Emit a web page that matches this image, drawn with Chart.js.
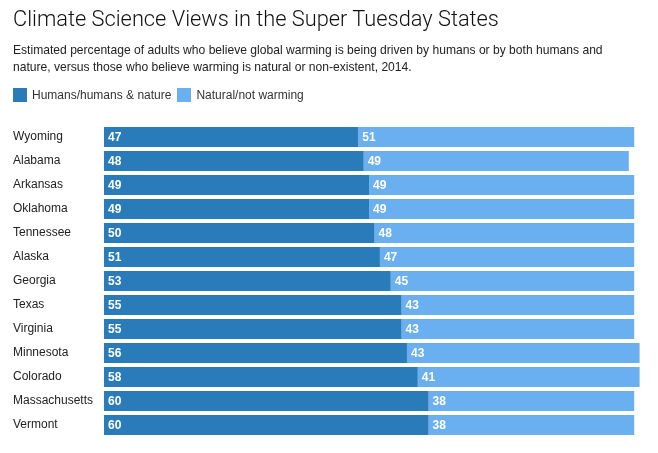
<!DOCTYPE html>
<html>
<head>
<meta charset="utf-8">
<script src="https://cdn.jsdelivr.net/npm/chart.js@4.4.1/dist/chart.umd.min.js"></script>
<style>
  html, body { margin: 0; padding: 0; background: #fff; }
  body { width: 658px; height: 453px; position: relative; overflow: hidden; font-family: "Liberation Sans", Arial, sans-serif; color: #222; }
  #title { position: absolute; left: 13px; top: 6px; font-family: Roboto, "Liberation Sans", Arial, sans-serif; font-size: 21.8px; font-weight: 300; white-space: nowrap; color: #111; }
  #sub { position: absolute; left: 13px; top: 42px; font-size: 12.1px; line-height: 17px; white-space: nowrap; color: #222; }
  #legend { position: absolute; left: 13px; top: 88px; font-size: 12px; white-space: nowrap; color: #333; display: flex; align-items: center; height: 14px; }
  .sw { display: inline-block; width: 14px; height: 14px; margin-right: 5px; }
  .lt { margin-right: 6px; }
  #wrap { position: absolute; left: 0; top: 0; width: 658px; height: 453px; }
</style>
</head>
<body>
<div id="wrap"><canvas id="c" width="658" height="453"></canvas></div>
<div id="title">Climate Science Views in the Super Tuesday States</div>
<div id="sub">Estimated percentage of adults who believe global warming is being driven by humans or by both humans and<br>nature, versus those who believe warming is natural or non-existent, 2014.</div>
<div id="legend"></div>
<script>
const states = ["Wyoming","Alabama","Arkansas","Oklahoma","Tennessee","Alaska","Georgia","Texas","Virginia","Minnesota","Colorado","Massachusetts","Vermont"];
const humans = [47,48,49,49,50,51,53,55,55,56,58,60,60];
const natural = [51,49,49,49,48,47,45,43,43,43,41,38,38];
const seriesNames = ["Humans/humans & nature","Natural/not warming"];
const seriesColors = ["#2a7bba","#6aaff0"];

const legendEl = document.getElementById('legend');
seriesNames.forEach((n, i) => {
  const s = document.createElement('span'); s.className = 'sw'; s.style.background = seriesColors[i];
  const t = document.createElement('span'); t.className = 'lt'; t.textContent = n;
  legendEl.appendChild(s); legendEl.appendChild(t);
});

const labelPlugin = {
  id: 'segLabels',
  afterDatasetsDraw(chart) {
    const ctx = chart.ctx;
    ctx.save();
    ctx.fillStyle = '#ffffff';
    ctx.font = 'bold 12px "Liberation Sans", Arial, sans-serif';
    ctx.textAlign = 'left';
    ctx.textBaseline = 'middle';
    chart.data.datasets.forEach((ds, di) => {
      const meta = chart.getDatasetMeta(di);
      meta.data.forEach((el, i) => {
        const left = Math.min(el.base, el.x);
        ctx.fillText(String(ds.data[i]), left + 4, el.y + 1);
      });
    });
    ctx.restore();
  }
};

new Chart(document.getElementById('c'), {
  type: 'bar',
  data: {
    labels: states,
    datasets: [
      { label: seriesNames[0], data: humans, backgroundColor: seriesColors[0], borderWidth: 0 },
      { label: seriesNames[1], data: natural, backgroundColor: seriesColors[1], borderWidth: 0 }
    ]
  },
  options: {
    indexAxis: 'y',
    responsive: false,
    animation: false,
    devicePixelRatio: 1,
    layout: { padding: { top: 125, bottom: 16, left: 13, right: 13 } },
    datasets: { bar: { barPercentage: 20/24, categoryPercentage: 1.0 } },
    plugins: { legend: { display: false }, tooltip: { enabled: false }, title: { display: false } },
    scales: {
      x: { stacked: true, display: false, min: 0, max: 100 },
      y: {
        stacked: true,
        grid: { display: false, drawTicks: false },
        border: { display: false },
        afterFit(scale) { scale.width = 91; },
        ticks: {
          crossAlign: 'far',
          padding: 0,
          color: '#222',
          font: { family: '"Liberation Sans", Arial, sans-serif', size: 12 }
        }
      }
    }
  },
  plugins: [labelPlugin]
});
</script>
</body>
</html>
